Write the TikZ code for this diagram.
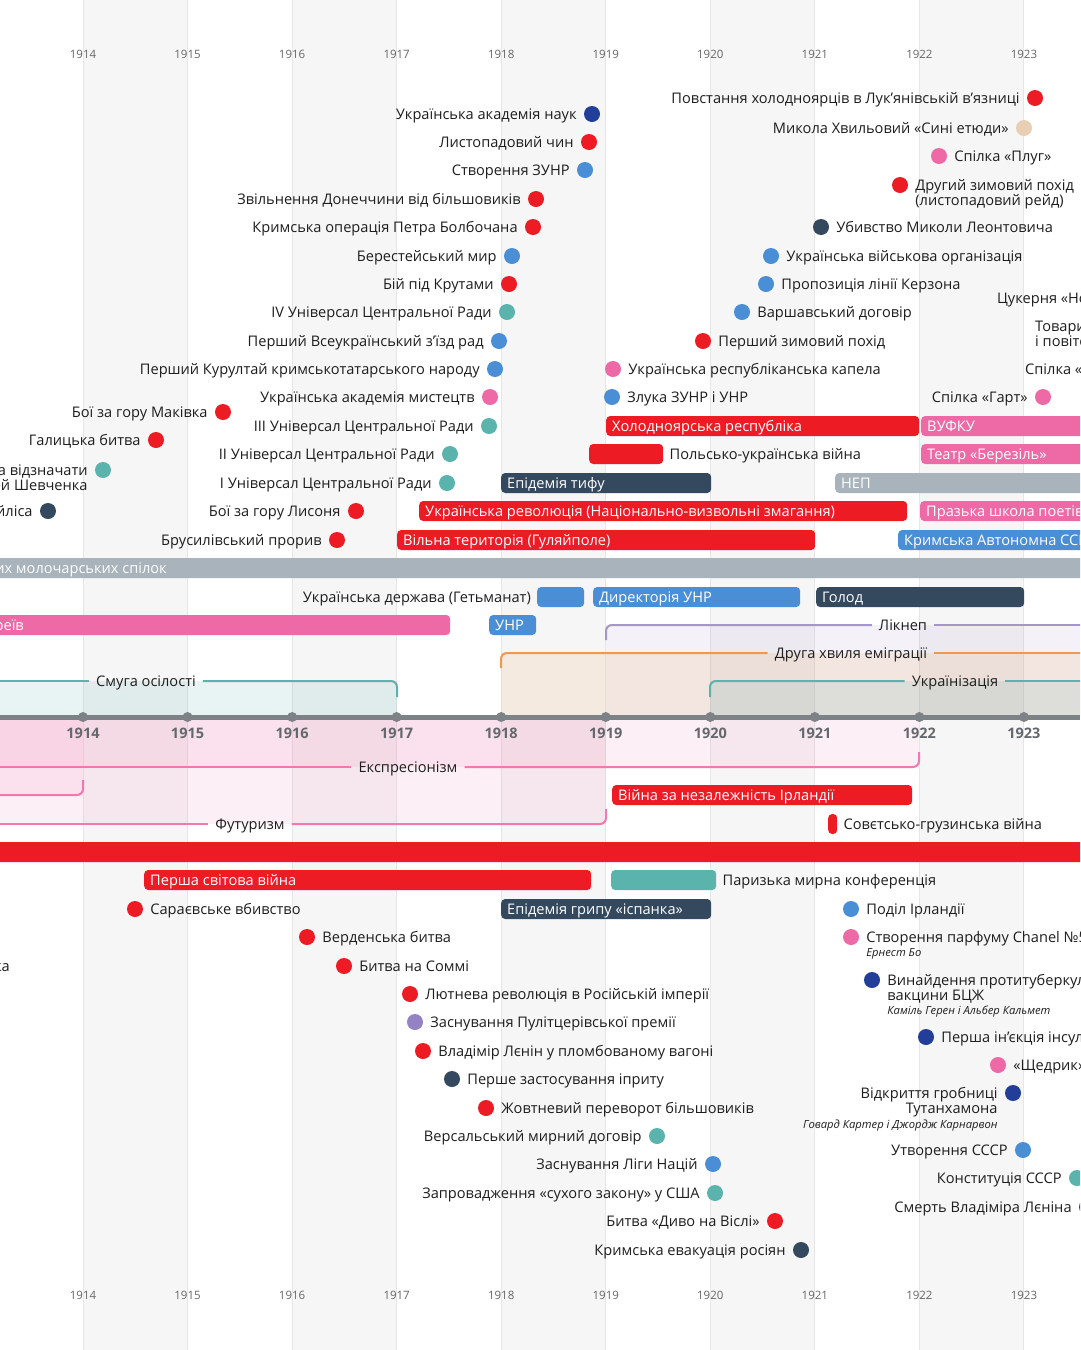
\documentclass[tikz,border=0pt]{standalone}
\usepackage{fontspec}
\setmainfont{Open Sans}
\usetikzlibrary{positioning}
\definecolor{cRed}{HTML}{ED1C24}
\definecolor{cBlue}{HTML}{4A8FD6}
\definecolor{cNavy}{HTML}{34495E}
\definecolor{cDkBlue}{HTML}{233E99}
\definecolor{cTeal}{HTML}{5BB3AE}
\definecolor{cPink}{HTML}{EE6AA7}
\definecolor{cPurple}{HTML}{9483C4}
\definecolor{cBeige}{HTML}{E8CFB3}
\definecolor{cGray}{HTML}{A8B3BB}
\definecolor{cOrange}{HTML}{EE9A4D}
\definecolor{cAxis}{HTML}{7D8287}
\definecolor{cText}{HTML}{1E1E1E}
\definecolor{cYr}{HTML}{666666}
\definecolor{cBand}{HTML}{F6F6F6}
\definecolor{cGrid}{HTML}{E6E6E6}
\newcommand{\tlbar}[6]{\node[bar, fill=#2, minimum width={#4-(#3)}, anchor=west] (#1) at (#3,#5) {};\node[bartext, anchor=west] (#1t) at ([xshift=6pt]#1.west) {#6};}
\newcommand{\evL}[5]{\node[tdot, fill=#2] (#1) at (#3,#4) {};\node[lbl, anchor=east] (#1t) at ([xshift=-7pt]#1.west) {#5};}
\newcommand{\evR}[5]{\node[tdot, fill=#2] (#1) at (#3,#4) {};\node[lbl, anchor=west] (#1t) at ([xshift=7pt]#1.east) {#5};}
\begin{document}
\begin{tikzpicture}[x=1pt,y=-1pt,
  lbl/.style={font=\fontsize{14.6}{15}\selectfont, text=cText, inner sep=0pt, text height=11.5pt, text depth=0.5pt},
  bartext/.style={lbl, text=white},
  tdot/.style={circle, minimum size=16pt, inner sep=0pt},
  bar/.style={rounded corners=4pt, minimum height=20pt, inner sep=0pt},
  subl/.style={font=\fontsize{11.2}{12}\selectfont\itshape, text=cText, inner sep=0pt},
  yr/.style={font=\fontsize{11.5}{13}\selectfont, text=cYr, inner sep=0pt},
  axyr/.style={font=\fontsize{14.5}{16}\selectfont\bfseries, text=cAxis!80!black, inner sep=0pt},
  brk/.style={line width=2pt, rounded corners=6pt},
  brl/.style={lbl, fill=none}]
\useasboundingbox (0,0) rectangle (1080,1350);
\clip (0,0) rectangle (1080,1350);
\fill[white] (0,0) rectangle (1080,1350);
% background bands and grid
\foreach \i in {0,2,4,6,8} \fill[cBand] ({83+\i*104.55},0) rectangle ({83+(\i+1)*104.55},1350);
\foreach \i in {0,...,9} \draw[cGrid, line width=1pt] ({83+\i*104.55},0) -- ({83+\i*104.55},1350);
\foreach \i in {0,...,9} {
  \pgfmathtruncatemacro{\yy}{1914+\i}
  \node[yr] (yt\i) at ({83+\i*104.55},54.5) {\yy};
  \node[yr] (yb\i) at ({83+\i*104.55},1295.5) {\yy};
}
% shaded periods above axis
\fill[cPurple, opacity=.10] (606,625) rectangle (1090,717);
\fill[cOrange, opacity=.13] (501,653) rectangle (1090,717);
\fill[cTeal, opacity=.14] (-10,681) rectangle (397,717);
\fill[cTeal, opacity=.14] (710,681) rectangle (1090,717);
% shaded periods below axis
\fill[cPink, opacity=.10] (-10,717) rectangle (919,767);
\fill[cPink, opacity=.10] (-10,717) rectangle (83,795);
\fill[cPink, opacity=.10] (-10,717) rectangle (606,824);
% brackets
\node[brl] (likn) at (903,625) {Лікнеп};
\draw[brk, cPurple!85] (606,640) |- ([xshift=-7pt]likn.west);
\draw[brk, cPurple!85] ([xshift=7pt]likn.east) -- (1090,625);
\node[brl] (emig) at (851,653) {Друга хвиля еміграції};
\draw[brk, cOrange] (501,668) |- ([xshift=-7pt]emig.west);
\draw[brk, cOrange] ([xshift=7pt]emig.east) -- (1090,653);
\node[brl] (smuga) at (146,681) {Смуга осілості};
\draw[brk, cTeal] (-10,681) -- ([xshift=-7pt]smuga.west);
\draw[brk, cTeal] ([xshift=7pt]smuga.east) -| (397,697);
\node[brl] (ukrz) at (955,681) {Українізація};
\draw[brk, cTeal] (710,697) |- ([xshift=-7pt]ukrz.west);
\draw[brk, cTeal] ([xshift=7pt]ukrz.east) -- (1090,681);
\node[brl] (expr) at (408,767) {Експресіонізм};
\draw[brk, cPink!90] (-10,767) -- ([xshift=-7pt]expr.west);
\draw[brk, cPink!90] ([xshift=7pt]expr.east) -| (919,752);
\coordinate (p1914a) at (-10,795);
\coordinate (p1914b) at (83,780);
\draw[brk, cPink!90] (p1914a) -| (p1914b);
\node[brl] (futur) at (250,824) {Футуризм};
\draw[brk, cPink!90] (-10,824) -- ([xshift=-7pt]futur.west);
\draw[brk, cPink!90] ([xshift=7pt]futur.east) -| (606,809);
% axis
\draw[cAxis, line width=5pt] (0,717) -- (1080,717);
\foreach \i in {0,...,9} {
  \pgfmathtruncatemacro{\yy}{1914+\i}
  \fill[cAxis] ({83+\i*104.55},717) circle (5pt);
  \node[axyr] (ya\i) at ({83+\i*104.55},733.5) {\yy};
}
% ---- top dots
\evL{povst}{cRed}{1035}{98}{Повстання холодноярців в Лук’янівській в’язниці}
\evL{akad}{cDkBlue}{592}{114}{Українська академія наук}
\evL{khvyl}{cBeige}{1024}{128}{Микола Хвильовий «Сині етюди»}
\evL{lystop}{cRed}{589}{142}{Листопадовий чин}
\evR{pluh}{cPink}{939}{156}{Спілка «Плуг»}
\evL{zunr}{cBlue}{585}{170}{Створення ЗУНР}
\evR{zym2}{cRed}{900}{185}{Другий зимовий похід}
\node[lbl, anchor=west] (zym2b) at ([yshift=-15pt]zym2t.west) {(листопадовий рейд)};
\evL{donech}{cRed}{536}{199}{Звільнення Донеччини від більшовиків}
\evL{krymop}{cRed}{533}{227}{Кримська операція Петра Болбочана}
\evR{leont}{cNavy}{821}{227}{Убивство Миколи Леонтовича}
\evL{brest}{cBlue}{512}{256}{Берестейський мир}
\evR{uvo}{cBlue}{771}{256}{Українська військова організація}
\evL{kruty}{cRed}{509}{284}{Бій під Крутами}
\evR{kerz}{cBlue}{766}{284}{Пропозиція лінії Керзона}
\node[lbl, anchor=west] (cuk) at (997,298) {Цукерня «Нова»};
\evL{u4}{cTeal}{507}{312}{IV Універсал Центральної Ради}
\evR{varsh}{cBlue}{742}{312}{Варшавський договір}
\node[lbl, anchor=west] (tov1) at (1035,326) {Товариство};
\node[lbl, anchor=west] (tov2) at (1035,341) {і повітових};
\evL{zizd}{cBlue}{499}{341}{Перший Всеукраїнський з’їзд рад}
\evR{zym1}{cRed}{703}{341}{Перший зимовий похід}
\evL{kurult}{cBlue}{495}{369}{Перший Курултай кримськотатарського народу}
\evR{kapela}{cPink}{613}{369}{Українська республіканська капела}
\node[lbl, anchor=west] (spilka) at (1025,369) {Спілка «Аспанфут»};
\evL{akmyst}{cPink}{490}{397}{Українська академія мистецтв}
\evR{zluka}{cBlue}{612}{397}{Злука ЗУНР і УНР}
\evL{hart}{cPink}{1043}{397}{Спілка «Гарт»}
\evL{makiv}{cRed}{223}{412}{Бої за гору Маківка}
\evL{u3}{cTeal}{489}{426}{III Універсал Центральної Ради}
\evL{halyc}{cRed}{156}{440}{Галицька битва}
\evL{u2}{cTeal}{450}{454}{II Універсал Центральної Ради}
\evL{shev}{cTeal}{103}{470}{Заборона відзначати}
\node[lbl, anchor=east] (shev2) at ([yshift=-15pt]shevt.east) {ювілей Шевченка};
\evL{u1}{cTeal}{447}{483}{I Універсал Центральної Ради}
\evL{beil}{cNavy}{48}{511}{Справа Бейліса}
\evL{lysonia}{cRed}{356}{511}{Бої за гору Лисоня}
\evL{brus}{cRed}{337}{540}{Брусилівський прорив}
% ---- top bars
\tlbar{holrep}{cRed}{606}{919}{426}{Холодноярська республіка}
\tlbar{vufku}{cPink}{921}{1100}{426}{ВУФКУ}
\tlbar{polukr}{cRed}{589}{663}{454}{}
\node[lbl, anchor=west] (polukrl) at ([xshift=6pt]polukr.east) {Польсько-українська війна};
\tlbar{berez}{cPink}{921}{1100}{454}{Театр «Березіль»}
\tlbar{tyf}{cNavy}{501}{711}{483}{Епідемія тифу}
\tlbar{nep}{cGray}{835}{1100}{483}{НЕП}
\tlbar{ukrrev}{cRed}{419}{907}{511}{Українська революція (Національно-визвольні змагання)}
\tlbar{praha}{cPink}{920}{1100}{511}{Празька школа поетів}
\tlbar{vilna}{cRed}{397}{815}{540}{Вільна територія (Гуляйполе)}
\tlbar{kassr}{cBlue}{898}{1100}{540}{Кримська Автономна ССР}
\tlbar{moloc}{cGray}{-200}{1100}{568}{}
\node[bartext, anchor=east] (molocl) at (167,568) {Союз українських молочарських спілок};
\tlbar{hetm}{cBlue}{537}{584}{597}{}
\node[lbl, anchor=east] (hetml) at ([xshift=-6pt]hetm.west) {Українська держава (Гетьманат)};
\tlbar{dyr}{cBlue}{593}{800}{597}{Директорія УНР}
\tlbar{holod}{cNavy}{816}{1024}{597}{Голод}
\tlbar{pogr}{cPink}{-200}{450}{625}{}
\node[bartext, anchor=east] (pogrl) at (24,625) {Погроми євреїв};
\tlbar{unr}{cBlue}{489}{536}{625}{УНР}
% ---- bottom bars
\tlbar{irl}{cRed}{612}{912}{795}{Війна за незалежність Ірландії}
\tlbar{georg}{cRed}{828}{837}{824}{}
\node[lbl, anchor=west] (georgl) at ([xshift=6pt]georg.east) {Совєтсько-грузинська війна};
\tlbar{bigred}{cRed}{-200}{1100}{852}{}
\tlbar{ww1}{cRed}{144}{591}{880}{Перша світова війна}
\tlbar{paris}{cTeal}{611}{716}{880}{}
\node[lbl, anchor=west] (parisl) at ([xshift=6pt]paris.east) {Паризька мирна конференція};
\tlbar{flu}{cNavy}{501}{711}{909}{Епідемія грипу «іспанка»}
% ---- bottom dots
\evR{saraj}{cRed}{135}{909}{Сараєвське вбивство}
\evR{irldiv}{cBlue}{851}{909}{Поділ Ірландії}
\evR{verdun}{cRed}{307}{937}{Верденська битва}
\evR{chanel}{cPink}{851}{937}{Створення парфуму Chanel №5}
\node[subl, anchor=north west] (chanels) at ([yshift=-5pt]chanelt.south west) {Ернест Бо};
\node[lbl, anchor=east] (kytai) at (10,966) {Китайська республіка};
\evR{somme}{cRed}{344}{966}{Битва на Соммі}
\evR{bcg}{cDkBlue}{872}{980}{Винайдення протитуберкульозної}
\node[lbl, anchor=west] (bcg2) at ([yshift=-15pt]bcgt.west) {вакцини БЦЖ};
\node[subl, anchor=north west] (bcgs) at ([yshift=-5pt]bcg2.south west) {Каміль Герен і Альбер Кальмет};
\evR{febr}{cRed}{410}{994}{Лютнева революція в Російській імперії}
\evR{pulit}{cPurple}{415}{1022}{Заснування Пулітцерівської премії}
\evR{insul}{cDkBlue}{926}{1037}{Перша ін’єкція інсуліну}
\evR{lenvag}{cRed}{423}{1051}{Владімір Лєнін у пломбованому вагоні}
\evR{shched}{cPink}{998}{1065}{«Щедрик» у Карнегі-холі}
\evR{iprit}{cNavy}{452}{1079}{Перше застосування іприту}
\evL{tut}{cDkBlue}{1013}{1093}{Відкриття гробниці}
\node[lbl, anchor=east] (tut2) at ([yshift=-15pt]tutt.east) {Тутанхамона};
\node[subl, anchor=north east] (tuts) at ([yshift=-5pt]tut2.south east) {Говард Картер і Джордж Карнарвон};
\evR{oct}{cRed}{486}{1108}{Жовтневий переворот більшовиків}
\evL{versal}{cTeal}{657}{1136}{Версальський мирний договір}
\evL{ussr}{cBlue}{1023}{1150}{Утворення СССР}
\evL{liga}{cBlue}{713}{1164}{Заснування Ліги Націй}
\evL{konst}{cTeal}{1077}{1178}{Конституція СССР}
\evL{prohib}{cTeal}{715}{1193}{Запровадження «сухого закону» у США}
\evL{lenind}{cNavy}{1087}{1207}{Смерть Владіміра Лєніна}
\evL{visla}{cRed}{775}{1221}{Битва «Диво на Віслі»}
\evL{evac}{cNavy}{801}{1250}{Кримська евакуація росіян}
\end{tikzpicture}
\end{document}
